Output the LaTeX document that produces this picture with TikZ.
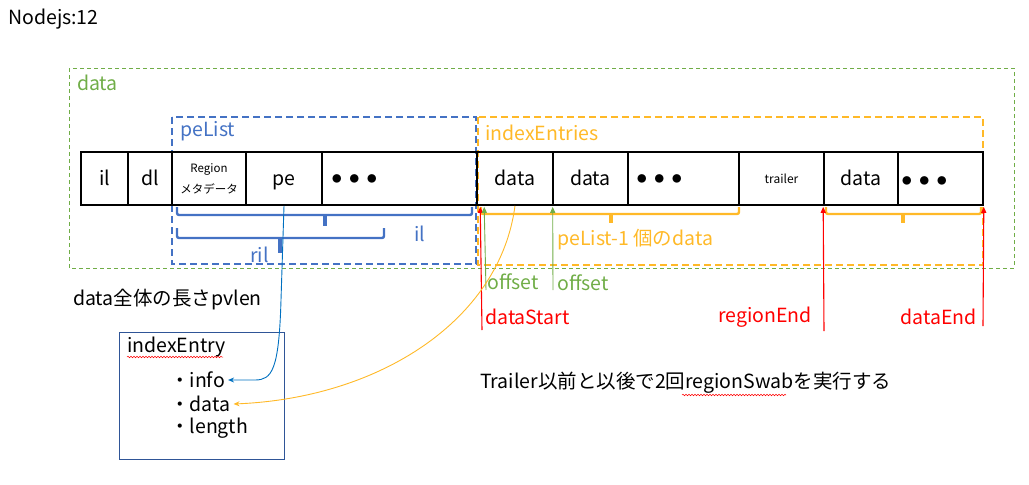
\documentclass[tikz,border=0pt]{standalone}
\usepackage{fontspec}
\setmainfont{Noto Sans CJK JP}
\usetikzlibrary{arrows.meta,decorations.pathmorphing,calc}
\definecolor{dgreen}{RGB}{112,173,71}
\definecolor{dblue}{RGB}{68,114,196}
\definecolor{dorange}{RGB}{255,185,40}
\definecolor{dred}{RGB}{255,0,0}
\definecolor{lblue}{RGB}{0,112,192}
\definecolor{navy}{RGB}{47,85,151}
\begin{document}
\begin{tikzpicture}[x=1pt,y=-1pt,
  big/.style={font=\fontsize{19.5}{22}\selectfont},
  cell/.style={draw=black, line width=1.6pt, minimum height=53pt, inner sep=0pt, big},
  one/.style={text height=15pt, text depth=2pt},
  lbl/.style={inner sep=0pt, anchor=west, big},
  lbe/.style={inner sep=0pt, anchor=east, big},
  dotsty/.style={inner sep=0pt, anchor=west, font=\fontsize{9.5}{9.5}\selectfont},
  grbox/.style={draw=dgreen, line width=0.9pt, dash pattern=on 4pt off 3pt},
  blbox/.style={draw=dblue, line width=1.8pt, dash pattern=on 7pt off 4pt},
  orbox/.style={draw=dorange, line width=1.8pt, dash pattern=on 7pt off 4pt},
  brace/.style={line width=2.4pt, rounded corners=2pt},
  tick/.style={line width=3.5pt},
  redarr/.style={draw=dred, line width=1.1pt, -{Triangle[length=6pt,width=5pt]}},
  grarr/.style={draw=dgreen, line width=0.9pt, -{Triangle[length=6pt,width=5pt]}},
  squig/.style={draw=dred, line width=0.5pt, decorate, decoration={snake, amplitude=0.8pt, segment length=3pt}}
]
\useasboundingbox (0,0) rectangle (1029,485);

\node[lbl] (title) at (8,19) {Nodejs:12};

% frames
\draw[grbox] (69,68) rectangle (1014,268);
\draw[blbox] (172,117) rectangle (476,264);
\draw[orbox] (478,117) rectangle (983,265);
\node[lbl, text=dgreen] (gdata) at (77,83) {data};
\node[lbl, text=dblue] (gpe) at (180,131) {peList};
\node[lbl, text=dorange] (gie) at (485,133) {indexEntries};

% row of cells
\node[cell, one, minimum width=47pt] (c1) at (104.5,178.5) {il};
\node[cell, one, minimum width=44pt] (c2) at (150,178.5) {dl};
\node[cell, minimum width=74pt, align=center] (c3) at (209,178.5) {\fontsize{11.5}{13}\selectfont Region\\[-1pt]\fontsize{11.5}{13}\selectfont メタデータ};
\node[cell, one, minimum width=76pt] (c4) at (284,178.5) {pe};
\node[cell, minimum width=155pt] (c5) at (399.5,178.5) {};
\node[cell, one, minimum width=76pt] (c6) at (515,178.5) {data};
\node[cell, one, minimum width=75pt] (c7) at (590.5,178.5) {data};
\node[cell, minimum width=111pt] (c8) at (683.5,178.5) {};
\node[cell, minimum width=85pt, font=\fontsize{12}{14}\selectfont] (c9) at (781.5,178.5) {trailer};
\node[cell, one, minimum width=74pt] (c10) at (861,178.5) {data};
\node[cell, minimum width=85pt] (c11) at (940.5,178.5) {};
\node[dotsty] (d1) at (332,179) {●\hspace{8pt}●\hspace{8pt}●};
\node[dotsty] (d2) at (637,179) {●\hspace{8pt}●\hspace{8pt}●};
\node[dotsty] (d3) at (902,181) {●\hspace{8pt}●\hspace{8pt}●};

% blue braces
\draw[brace, dblue] (177,207) -- (177,215) -- (472,215) -- (472,207);
\draw[tick, dblue] (325,215) -- (325,226);
\draw[brace, dblue] (177,228) -- (177,238) -- (384,238) -- (384,228);
\draw[tick, dblue] (280,238) -- (280,253);
\node[lbl, text=dblue] (il) at (414,234) {il};
\node[lbl, text=dblue] (ril) at (250,255) {ril};

% orange braces
\draw[brace, dorange] (481,207) -- (481,214) -- (739,214) -- (739,207);
\draw[tick, dorange] (611,214) -- (611,223);
\draw[brace, dorange] (826,207) -- (826,214) -- (981,214) -- (981,207);
\draw[tick, dorange] (903,214) -- (903,223);
\node[lbl, text=dorange] (pl1) at (557,240) {peList-1 個のdata};

% red markers
\coordinate (dsB) at (482,330);
\coordinate (dsT) at ($(c6.south west)+(4,1)$);
\coordinate (reB) at (824,331);
\coordinate (reT) at ($(c10.south west)+(0,1)$);
\coordinate (deB) at (983,326);
\coordinate (deT) at ($(c11.south east)+(0,1)$);
\draw[redarr] (dsB) -- (dsT);
\draw[redarr] (reB) -- (reT);
\draw[redarr] (deB) -- (deT);
\node[lbl, text=dred] (ds) at (485,317) {dataStart};
\node[lbe, text=dred] (re) at (812,317) {regionEnd};
\node[lbe, text=dred] (de) at (977,317) {dataEnd};

% green offsets
\coordinate (o1B) at (486,290);
\coordinate (o1T) at ($(c6.south west)+(8,1)$);
\coordinate (o2B) at (553,290);
\coordinate (o2T) at ($(c7.south west)+(0.5,1)$);
\draw[grarr] (o1B) -- (o1T);
\draw[grarr] (o2B) -- (o2T);
\node[lbl, text=dgreen] (of1) at (487,282) {offset};
\node[lbl, text=dgreen] (of2) at (557,283) {offset};

\node[lbl] (pv) at (73,300) {data全体の長さpvlen};

% indexEntry box
\draw[navy, line width=0.9pt] (119,332) rectangle (284,459);
\node[lbl] (ie) at (127,347) {indexEntry};
\draw[squig] (127,357) -- (223,357);
\node[lbl] (info) at (170,380) {・info};
\node[lbl] (idata) at (170,404) {・data};
\node[lbl] (ilen) at (170,428) {・length};

\node[lbl] (tr) at (480,383) {Trailer以前と以後で2回regionSwabを実行する};
\draw[squig] (682,395) -- (786,395);

% curves
\draw[lblue, line width=0.9pt, -{Stealth[length=6pt,width=5pt]}] (c4.south) -- (281,300) .. controls (279,370) and (272,380) .. (255,380) -- ($(info.east)+(3,0)$);
\draw[dorange, line width=0.9pt, -{Stealth[length=6pt,width=5pt]}] (c6.south) .. controls (500,320) and (380,398) .. ($(idata.east)+(3,0)$);
\end{tikzpicture}
\end{document}
